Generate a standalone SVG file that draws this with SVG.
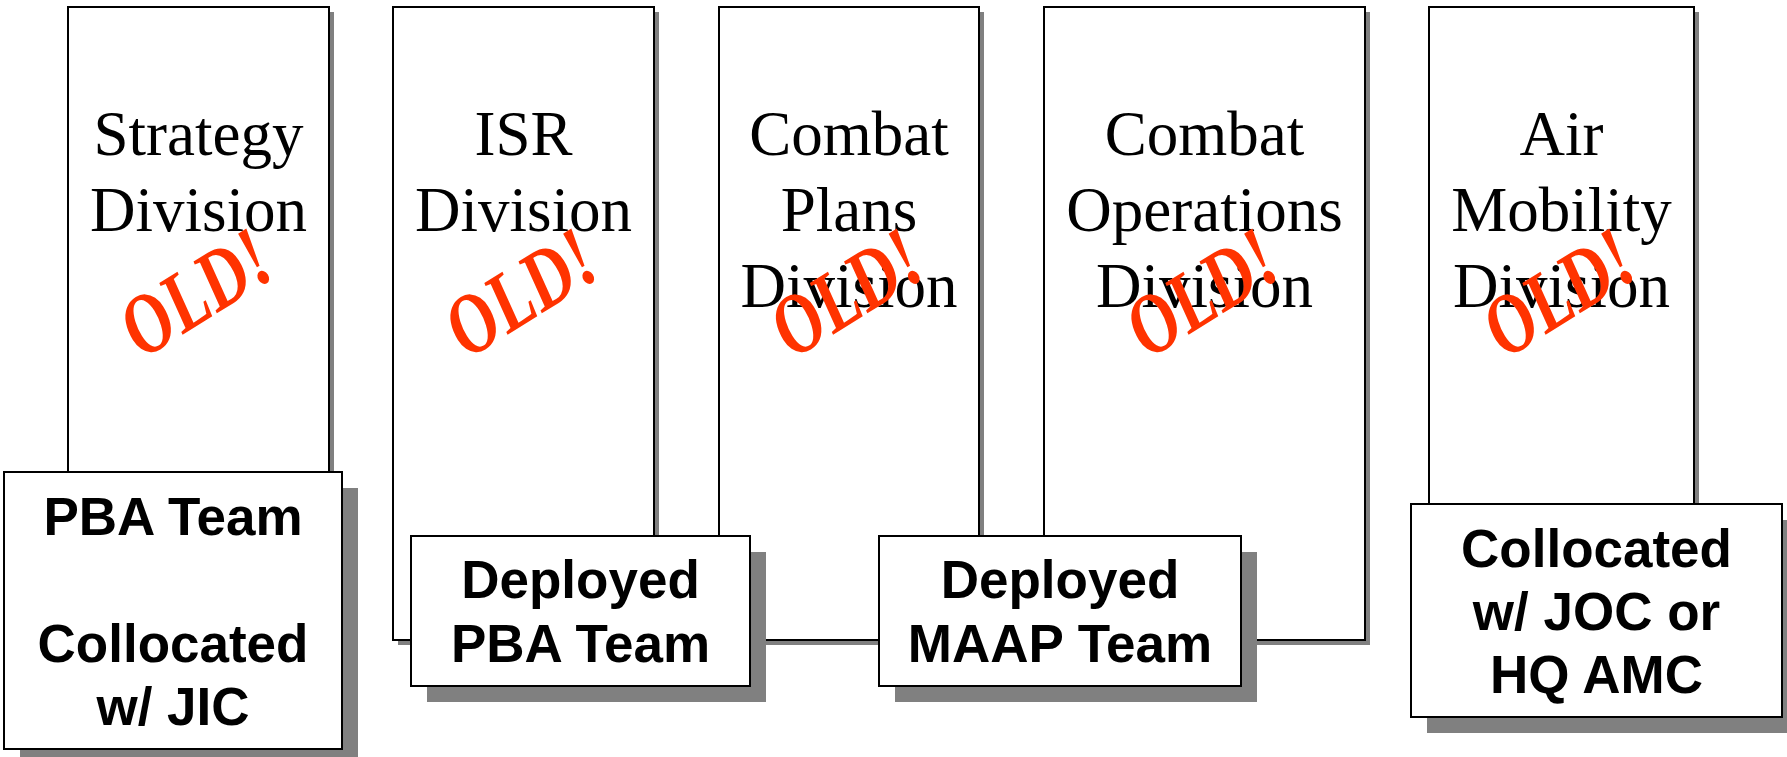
<svg xmlns="http://www.w3.org/2000/svg" width="1787" height="757" viewBox="0 0 1787 757">
  <style>
    .shadow { fill: #808080; }
    .div-box { fill: #ffffff; stroke: #000000; stroke-width: 2; }
    .team-box { fill: #ffffff; stroke: #000000; stroke-width: 2; }
    .div-label { font-family: "Liberation Serif", "Times New Roman", serif; font-size: 63px; fill: #000000; text-anchor: middle; }
    .team-label { font-family: "Liberation Sans", Arial, sans-serif; font-size: 53px; font-weight: bold; fill: #000000; text-anchor: middle; }
    .stamp { font-family: "Liberation Serif", "Times New Roman", serif; font-size: 66px; font-weight: bold; font-style: italic; fill: #ff3300; text-anchor: middle; }
  </style>
  <rect width="1787" height="757" fill="#ffffff"/>

  <!-- Division columns -->
  <g id="strategy-division">
    <rect class="shadow" x="73" y="12" width="261" height="633"/>
    <rect class="div-box" x="68" y="7" width="261" height="633"/>
    <text class="div-label" x="198.5" y="155">Strategy</text>
    <text class="div-label" x="198.5" y="231">Division</text>
    <text class="stamp" transform="translate(211,317) rotate(-32) scale(1.0,1.3)">OLD!</text>
  </g>
  <g id="isr-division">
    <rect class="shadow" x="398" y="12" width="261" height="633"/>
    <rect class="div-box" x="393" y="7" width="261" height="633"/>
    <text class="div-label" x="523.5" y="155">ISR</text>
    <text class="div-label" x="523.5" y="231">Division</text>
    <text class="stamp" transform="translate(536,317) rotate(-32) scale(1.0,1.3)">OLD!</text>
  </g>
  <g id="combat-plans-division">
    <rect class="shadow" x="724" y="12" width="260" height="633"/>
    <rect class="div-box" x="719" y="7" width="260" height="633"/>
    <text class="div-label" x="849" y="155">Combat</text>
    <text class="div-label" x="849" y="231">Plans</text>
    <text class="div-label" x="849" y="307">Division</text>
    <text class="stamp" transform="translate(861.5,317) rotate(-32) scale(1.0,1.3)">OLD!</text>
  </g>
  <g id="combat-operations-division">
    <rect class="shadow" x="1049" y="12" width="321" height="633"/>
    <rect class="div-box" x="1044" y="7" width="321" height="633"/>
    <text class="div-label" x="1204.5" y="155">Combat</text>
    <text class="div-label" x="1204.5" y="231">Operations</text>
    <text class="div-label" x="1204.5" y="307">Division</text>
    <text class="stamp" transform="translate(1217,317) rotate(-32) scale(1.0,1.3)">OLD!</text>
  </g>
  <g id="air-mobility-division">
    <rect class="shadow" x="1434" y="12" width="265" height="633"/>
    <rect class="div-box" x="1429" y="7" width="265" height="633"/>
    <text class="div-label" x="1561.5" y="155">Air</text>
    <text class="div-label" x="1561.5" y="231">Mobility</text>
    <text class="div-label" x="1561.5" y="307">Division</text>
    <text class="stamp" transform="translate(1574,317) rotate(-32) scale(1.0,1.3)">OLD!</text>
  </g>

  <!-- Team boxes -->
  <g id="pba-team">
    <rect class="shadow" x="20" y="488" width="338" height="277"/>
    <rect class="team-box" x="4" y="472" width="338" height="277"/>
    <text class="team-label" x="173" y="535">PBA Team</text>
    <text class="team-label" x="173" y="662">Collocated</text>
    <text class="team-label" x="173" y="725">w/ JIC</text>
  </g>
  <g id="deployed-pba-team">
    <rect class="shadow" x="427" y="552" width="339" height="150"/>
    <rect class="team-box" x="411" y="536" width="339" height="150"/>
    <text class="team-label" x="580.5" y="598">Deployed</text>
    <text class="team-label" x="580.5" y="662">PBA Team</text>
  </g>
  <g id="deployed-maap-team">
    <rect class="shadow" x="895" y="552" width="362" height="150"/>
    <rect class="team-box" x="879" y="536" width="362" height="150"/>
    <text class="team-label" x="1060" y="598">Deployed</text>
    <text class="team-label" x="1060" y="662">MAAP Team</text>
  </g>
  <g id="collocated-joc">
    <rect class="shadow" x="1427" y="520" width="371" height="213"/>
    <rect class="team-box" x="1411" y="504" width="371" height="213"/>
    <text class="team-label" x="1596.5" y="567">Collocated</text>
    <text class="team-label" x="1596.5" y="630">w/ JOC or</text>
    <text class="team-label" x="1596.5" y="693">HQ AMC</text>
  </g>

  <!-- no connectors in this chart -->
  <g id="connectors"/>
</svg>
